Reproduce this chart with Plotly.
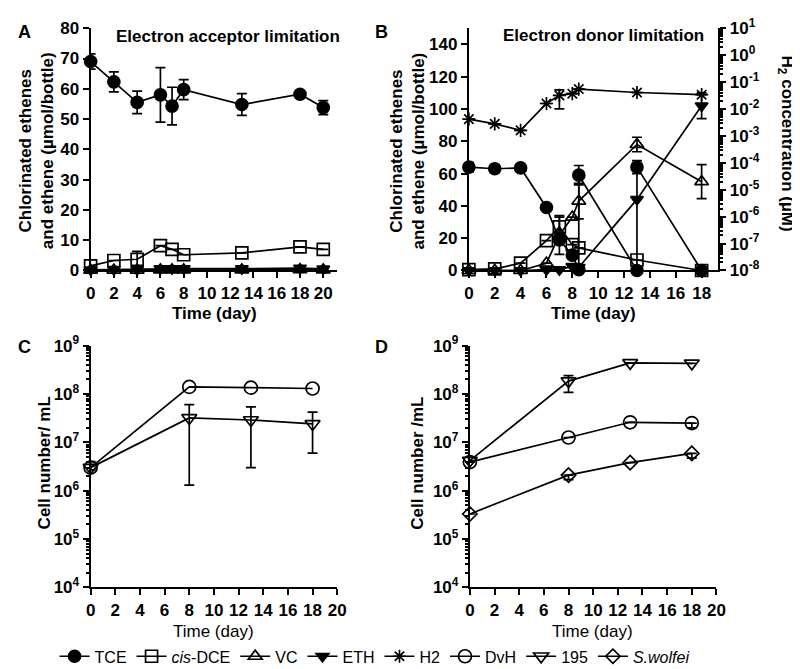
import plotly.graph_objects as go

FONT = "Liberation Sans, Arial, sans-serif"

# ---------------- Panel A: electron acceptor limitation ----------------
a_days = [0, 2, 4, 6, 7, 8, 13, 18, 20]
a_tce = [69.0, 62.3, 55.5, 58.0, 54.3, 59.7, 54.8, 58.2, 53.8]
a_tce_sd = [2.5, 3.3, 3.7, 9.0, 6.2, 3.3, 3.6, 0.5, 2.3]
a_dce = [1.5, 3.3, 3.7, 8.2, 7.0, 5.2, 5.8, 7.8, 7.0]
a_dce_sd = [None, None, 2.6, None, None, None, None, None, None]
a_vc = [0.1, 0.1, 0.1, 0.2, 0.2, 0.2, 0.2, 0.3, 0.2]
a_eth = [0.2, 0.3, 0.3, 0.6, 0.6, 0.6, 0.6, 0.8, 0.5]

# ---------------- Panel B: electron donor limitation ----------------
b_tce_days = [0, 2, 4, 6, 7, 8, 8.5, 8.5, 13, 13, 18]
b_tce = [64.0, 63.0, 63.5, 39.0, 19.0, 9.5, 0.5, 59.0, 0.0, 64.0, 0.0]
b_tce_sd = [3.0, 2.5, None, None, None, None, None, 6.0, None, 4.0, None]
b_days = [0, 2, 4, 6, 7, 8, 8.5, 13, 18]
b_dce = [0.5, 1.0, 4.5, 18.5, 27.0, 16.0, 14.0, 6.5, 0.0]
b_dce_sd = [None, None, None, None, 6.0, None, None, None, None]
b_vc = [0.0, 0.0, 0.0, 4.5, 22.0, 33.0, 43.0, 78.0, 55.0]
b_vc_sd = [None, None, None, None, 12.0, None, 11.0, 4.5, 10.5]
b_eth = [0.0, 0.0, 0.0, 0.5, 0.5, 2.5, 2.0, 44.0, 102.0]
b_eth_sd = [None, None, None, None, None, None, None, None, 8.0]
b_h2 = [4.2e-3, 2.8e-3, 1.6e-3, 1.6e-2, 3.2e-2, 3.7e-2, 5.5e-2, 4.1e-2, 3.4e-2]
b_h2_up = [None, None, None, None, 1.9e-2, None, None, None, None]
b_h2_dn = [None, None, None, None, 2.2e-2, None, None, None, None]

# ---------------- Panel C: cell numbers, acceptor limitation ----------------
c_days = [0, 8, 13, 18]
c_dvh = [3.0e6, 1.4e8, 1.35e8, 1.3e8]
c_195 = [3.0e6, 3.2e7, 2.9e7, 2.4e7]
c_195_up = [1.0e6, 2.8e7, 2.5e7, 1.8e7]
c_195_dn = [0.3e6, 3.07e7, 2.6e7, 1.8e7]

# ---------------- Panel D: cell numbers, donor limitation ----------------
d_days = [0, 8, 13, 18]
d_195 = [4.2e6, 1.85e8, 4.4e8, 4.3e8]
d_195_up = [None, 0.55e8, None, None]
d_195_dn = [None, 0.77e8, None, None]
d_dvh = [3.9e6, 1.26e7, 2.6e7, 2.5e7]
d_dvh_up = [None, None, None, 0.0]
d_dvh_dn = [None, None, None, 0.5e7]
d_sw = [3.3e5, 2.1e6, 3.8e6, 5.9e6]
d_sw_up = [None, 0.0, None, 0.0]
d_sw_dn = [None, 0.4e6, None, 1.2e6]

names = {
    "TCE": "TCE", "DCE": "<i>cis</i>-DCE", "VC": "VC", "ETH": "ETH", "H2": "H2",
    "DvH": "DvH", "195": "195", "SW": "<i>S.wolfei</i>",
}
symbols = {
    "TCE": "circle", "DCE": "square-open", "VC": "triangle-up-open",
    "ETH": "triangle-down", "H2": "asterisk-open", "DvH": "circle-open",
    "195": "triangle-down-open", "SW": "diamond-open",
}
sizes = {"TCE": 12, "DCE": 12, "VC": 12, "ETH": 11, "H2": 11,
         "DvH": 13, "195": 13, "SW": 11}
rank = {"TCE": 1, "DCE": 2, "VC": 3, "ETH": 4, "H2": 5, "DvH": 6, "195": 7, "SW": 8}

fig = go.Figure()


def err(up, dn=None):
    if up is None:
        return None
    if dn is None:
        return dict(type="data", array=up, symmetric=True, color="black",
                    thickness=1.7, width=5)
    return dict(type="data", array=up, arrayminus=dn, symmetric=False,
                color="black", thickness=1.7, width=5)


def add(key, x, y, xa, ya, show, e=None):
    fig.add_trace(go.Scatter(
        x=x, y=y, xaxis=xa, yaxis=ya, mode="lines+markers",
        name=names[key], legendgroup=key, showlegend=show, legendrank=rank[key],
        line=dict(color="black", width=1.7),
        marker=dict(symbol=symbols[key], size=sizes[key], color="black",
                    line=dict(color="black", width=1.7)),
        error_y=e, cliponaxis=False,
    ))


# Panel A
add("VC", a_days, a_vc, "x", "y", True)
add("ETH", a_days, a_eth, "x", "y", True)
add("DCE", a_days, a_dce, "x", "y", True, err(a_dce_sd))
add("TCE", a_days, a_tce, "x", "y", True, err(a_tce_sd))
# Panel B
add("H2", b_days, b_h2, "x2", "y3", True, err(b_h2_up, b_h2_dn))
add("ETH", b_days, b_eth, "x2", "y2", False, err(b_eth_sd))
add("VC", b_days, b_vc, "x2", "y2", False, err(b_vc_sd))
add("DCE", b_days, b_dce, "x2", "y2", False, err(b_dce_sd))
add("TCE", b_tce_days, b_tce, "x2", "y2", False, err(b_tce_sd))
# Panel C
add("DvH", c_days, c_dvh, "x4", "y4", True)
add("195", c_days, c_195, "x4", "y4", True, err(c_195_up, c_195_dn))
# Panel D
add("195", d_days, d_195, "x5", "y5", False, err(d_195_up, d_195_dn))
add("DvH", d_days, d_dvh, "x5", "y5", False, err(d_dvh_up, d_dvh_dn))
add("SW", d_days, d_sw, "x5", "y5", True, err(d_sw_up, d_sw_dn))

W, H = 800, 669


def px_x(v):
    return v / W


def px_y(v):
    return 1 - v / H


tickfont = dict(family=FONT, size=17, color="black", weight="bold")
common = dict(showline=True, linecolor="black", linewidth=2, ticks="outside",
              ticklen=6, tickwidth=2, tickcolor="black", showgrid=False,
              zeroline=False, tickfont=tickfont)

decades9 = [1e-8, 1e-7, 1e-6, 1e-5, 1e-4, 1e-3, 1e-2, 1e-1, 1e0, 1e1]
decades9_txt = ["10<sup>-8</sup>", "10<sup>-7</sup>", "10<sup>-6</sup>",
                "10<sup>-5</sup>", "10<sup>-4</sup>", "10<sup>-3</sup>",
                "10<sup>-2</sup>", "10<sup>-1</sup>", "10<sup>0</sup>",
                "10<sup>1</sup>"]
cell_dec = [1e4, 1e5, 1e6, 1e7, 1e8, 1e9]
cell_txt = ["10<sup>4</sup>", "10<sup>5</sup>", "10<sup>6</sup>",
            "10<sup>7</sup>", "10<sup>8</sup>", "10<sup>9</sup>"]
minor_h2 = [m * d for d in decades9[:-1] for m in range(2, 10)]
minor_cell = [m * d for d in cell_dec[:-1] for m in range(2, 10)]

xA = [px_x(79), px_x(330)]
xB = [px_x(464), px_x(718)]
xD = [px_x(465), px_x(716)]
yTop = [px_y(259), px_y(8.5)]
yBot = [px_y(586.7), px_y(336.7)]

fig.update_layout(
    width=W, height=H, margin=dict(l=0, r=0, t=0, b=0),
    paper_bgcolor="white", plot_bgcolor="white",
    font=dict(family=FONT, color="black"),
    xaxis=dict(domain=xA, anchor="y", range=[0, 21.2],
               tickvals=[0, 2, 4, 6, 8, 10, 12, 14, 16, 18, 20], **common),
    yaxis=dict(domain=yTop, anchor="x", range=[0, 80], dtick=10, **common),
    xaxis2=dict(domain=xB, anchor="y2", range=[0, 19.3],
                tickvals=[0, 2, 4, 6, 8, 10, 12, 14, 16, 18], **common),
    yaxis2=dict(domain=yTop, anchor="x2", range=[0, 150],
                tickvals=[0, 20, 40, 60, 80, 100, 120, 140], **common),
    yaxis3=dict(anchor="x2", overlaying="y2", side="right", type="log",
                range=[-8, 1], tickvals=decades9, ticktext=decades9_txt,
                minor=dict(tickvals=minor_h2, ticks="outside", ticklen=3,
                           tickwidth=1.5, tickcolor="black"),
                **common),
    xaxis4=dict(domain=xA, anchor="y4", range=[0, 20],
                tickvals=[0, 2, 4, 6, 8, 10, 12, 14, 16, 18, 20], **common),
    yaxis4=dict(domain=yBot, anchor="x4", type="log", range=[4, 9],
                tickvals=cell_dec, ticktext=cell_txt,
                minor=dict(tickvals=minor_cell, ticks="outside", ticklen=3,
                           tickwidth=1.5, tickcolor="black"),
                **common),
    xaxis5=dict(domain=xD, anchor="y5", range=[0, 20],
                tickvals=[0, 2, 4, 6, 8, 10, 12, 14, 16, 18, 20], **common),
    yaxis5=dict(domain=yBot, anchor="x5", type="log", range=[4, 9],
                tickvals=cell_dec, ticktext=cell_txt,
                minor=dict(tickvals=minor_cell, ticks="outside", ticklen=3,
                           tickwidth=1.5, tickcolor="black"),
                **common),
    legend=dict(orientation="h", x=0.46, xanchor="center", y=px_y(658),
                yanchor="middle", font=dict(family=FONT, size=16, color="black"),
                bgcolor="rgba(0,0,0,0)", itemwidth=30, tracegroupgap=0),
)

bold = dict(family=FONT, size=17, color="black", weight="bold")
boldL = dict(family=FONT, size=18, color="black", weight="bold")
reg = dict(family=FONT, size=17, color="black")


def ann(text, x, y, font, angle=0, xanchor="center"):
    fig.add_annotation(text=text, x=px_x(x), y=px_y(y), xref="paper",
                       yref="paper", showarrow=False, font=font,
                       textangle=angle, xanchor=xanchor, yanchor="middle")


ann("A", 3, 12, boldL, xanchor="left")
ann("B", 366, 12, boldL, xanchor="left")
ann("C", 3, 338, boldL, xanchor="left")
ann("D", 366, 338, boldL, xanchor="left")
ann("Electron acceptor limitation", 219, 17, bold)
ann("Electron donor limitation", 601, 16, bold)
ann("Chlorinated ethenes<br>and ethene (µmol/bottle)", 24, 135, bold, angle=-90)
ann("Chlorinated ethenes<br>and ethene (µmol/bottle)", 402, 135, bold, angle=-90)
ann("H<sub>2</sub> concentration (µM)", 787, 128, bold, angle=90)
ann("Time (day)", 205, 303, bold)
ann("Time (day)", 591, 303, bold)
ann("Cell number/ mL", 32, 458, bold, angle=-90)
ann("Cell number /mL", 412, 458, bold, angle=-90)
ann("Time (day)", 204, 632, reg)
ann("Time (day)", 590, 632, reg)

fig.write_html("out.html")
